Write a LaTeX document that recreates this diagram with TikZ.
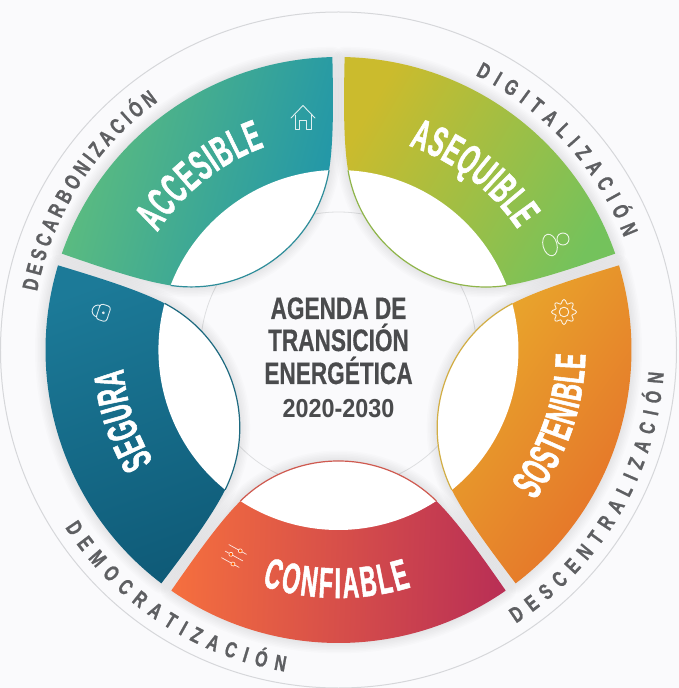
\documentclass[tikz,border=0pt]{standalone}
\usepackage{fontspec}
\usepackage{tikz}
\usetikzlibrary{decorations.text}
\newfontfamily\bandfont[FakeStretch=0.53,FakeBold=1.2]{Liberation Sans}
\newfontfamily\ringfont[FakeStretch=0.72,FakeBold=1]{Liberation Sans}
\newfontfamily\agendafont[FakeStretch=0.73,FakeBold=0.5]{Liberation Sans}
\newfontfamily\yearsfont[FakeStretch=0.9]{Liberation Sans}
\definecolor{paper}{HTML}{FAFAFC}
\definecolor{ringgray}{HTML}{D6D7DA}
\definecolor{ringtext}{HTML}{5E5F62}
\definecolor{agendagray}{HTML}{4A4B4D}
\newcommand{\whitefont}{\bandfont\bfseries\fontsize{43}{43}\selectfont\color{white}}
\newcommand{\outerfont}{\ringfont\bfseries\fontsize{22}{22}\selectfont\color{ringtext}}
% One petal, around the axis at angle \ang
\newcommand{\petalpath}{({\ang+34.8}:293) arc[start angle=\ang+34.8, end angle=\ang-34.8, radius=293]
    .. controls ({\ang-34.8}:250) and ({\ang-34.7}:209) .. ({\ang-33}:180)
    arc[start angle=\ang+224.4, end angle=\ang+135.6, radius=140]
    .. controls ({\ang+34.7}:209) and ({\ang+34.8}:250) .. cycle}
\tikzset{
    ringlabel/.style={decorate, decoration={text along path, text align={fit to path}, text={|\outerfont|#1}}},
    bandlabel/.style={decorate, decoration={text along path, text align={fit to path}, text={|\whitefont|#1}}},
    agenda/.style={text=agendagray, font=\agendafont\bfseries\fontsize{31}{31}\selectfont, anchor=base, inner sep=0pt},
    iconline/.style={draw=white, draw opacity=.85, line width=.9pt, line join=round, line cap=round}
}
\begin{document}
\begin{tikzpicture}[x=1pt,y=1pt]
    \fill[paper] (-338.5,-338) rectangle (340.5,350);
    \useasboundingbox (-338.5,-338) rectangle (340.5,350);
    \draw[ringgray, line width=1pt] (0,0) circle (338);
    \draw[ringgray!80, line width=.8pt] (0,0) circle (138);
    % Soft shadows first
    \foreach \ang in {126,54,-18,270,198}{
        \foreach \w in {3,6,...,21}{
            \draw[black, opacity=.011, line width=\w pt, line join=round] \petalpath;
        }
    }
    % Petals: axis / first colour / last colour / shading angle
    \foreach \ang/\colstart/\colend/\shadeang in {
        126/5FBE7D/2196A9/-105,
        54/CBBB2D/74C25C/-120,
        -18/E9AF2C/E56E2A/-125,
        270/F56F3E/B92F55/-92,
        198/1C7A98/0F5B78/-160}{
        \definecolor{colA}{HTML}{\colstart}
        \definecolor{colB}{HTML}{\colend}
        \path[bottom color=colA, top color=colB, shading angle=\shadeang] \petalpath;
    }
    % White lenses with their rims
    \foreach \ang/\rimcol in {126/2E8D9A,54/8FB54A,-18/D2AE45,270/CF5A50,198/1E6A80}{
        \definecolor{colR}{HTML}{\rimcol}
        \fill[white] ({\ang-33}:180) arc[start angle=\ang+224.4, end angle=\ang+135.6, radius=140]
            arc[start angle=\ang+33, end angle=\ang-33, radius=180] -- cycle;
        \draw[colR, line width=1.2pt] ({\ang-33}:180) arc[start angle=\ang+224.4, end angle=\ang+135.6, radius=140];
    }
    % Centre title
    \node[agenda] (agenda) at (0,31) {AGENDA DE};
    \node[agenda] (transicion) at (0,-1) {TRANSICIÓN};
    \node[agenda] (energetica) at (0,-34) {ENERGÉTICA};
    \node[agenda, font=\yearsfont\bfseries\fontsize{26}{26}\selectfont] (years) at (0,-67) {2020-2030};
    % Band names
    \path[bandlabel={ACCESIBLE}] (147:216) arc[start angle=147, end angle=110, radius=216];
    \path[bandlabel={ASEQUIBLE}] (71:216) arc[start angle=71, end angle=34, radius=216];
    \path[bandlabel={SOSTENIBLE}] (-37.5:247) arc[start angle=-37.5, end angle=-1, radius=247];
    \path[bandlabel={CONFIABLE}] (252:248) arc[start angle=252, end angle=287, radius=248];
    \path[bandlabel={SEGURA}] (211:216) arc[start angle=211, end angle=185, radius=216];
    % Ring names
    \path[ringlabel={DESCARBONIZACIÓN}] (169:307) arc[start angle=169, end angle=126, radius=307];
    \path[ringlabel={DIGITALIZACIÓN}] (63.5:307) arc[start angle=63.5, end angle=21.5, radius=307];
    \path[ringlabel={DESCENTRALIZACIÓN}] (-57:326) arc[start angle=-57, end angle=-4, radius=326];
    \path[ringlabel={DEMOCRATIZACIÓN}] (213:326) arc[start angle=213, end angle=260.5, radius=326];
    % Icons
    \begin{scope}[shift={(-35.5,232)}]
        \draw[iconline] (-12,0) -- (0,12.5) -- (12,0);
        \draw[iconline] (-8,3) -- (-8,-11) -- (-3.5,-11) -- (-3.5,-2) -- (3.5,-2) -- (3.5,-11) -- (8,-11) -- (8,3);
    \end{scope}
    \begin{scope}[shift={(218,108)}]
        \draw[iconline] (6.5,3) circle (6);
        \draw[iconline, rotate around={15:(-6.5,-3)}] (-6.5,-3) ellipse (7 and 11);
    \end{scope}
    \draw[iconline, shift={(225.5,38)}] plot[smooth cycle, samples=48, domain=0:352.5] (\x:{10.5+2*cos(8*\x)});
    \draw[iconline] (225.5,38) circle (4.8);
    \begin{scope}[shift={(-237.5,38)}, rotate=72]
        \draw[iconline, rounded corners=3pt] (-8,-8) rectangle (8,3);
        \draw[iconline] (-6,3) arc[start angle=180, end angle=0, radius=6];
        \draw[iconline] (0,-2.5) circle (1);
    \end{scope}
    \begin{scope}[shift={(-104.5,-206)}, rotate=-29]
        \draw[iconline, line width=.7pt] (-10,7.5) -- (10,7.5);
        \draw[iconline, line width=.7pt] (-10,0) -- (10,0);
        \draw[iconline, line width=.7pt] (-10,-7.5) -- (10,-7.5);
        \draw[iconline, line width=.7pt, fill=orange!70!red] (3,7.5) circle (2);
        \draw[iconline, line width=.7pt, fill=orange!70!red] (-3.5,0) circle (2);
        \draw[iconline, line width=.7pt, fill=orange!70!red] (3,-7.5) circle (2);
    \end{scope}
\end{tikzpicture}
\end{document}
